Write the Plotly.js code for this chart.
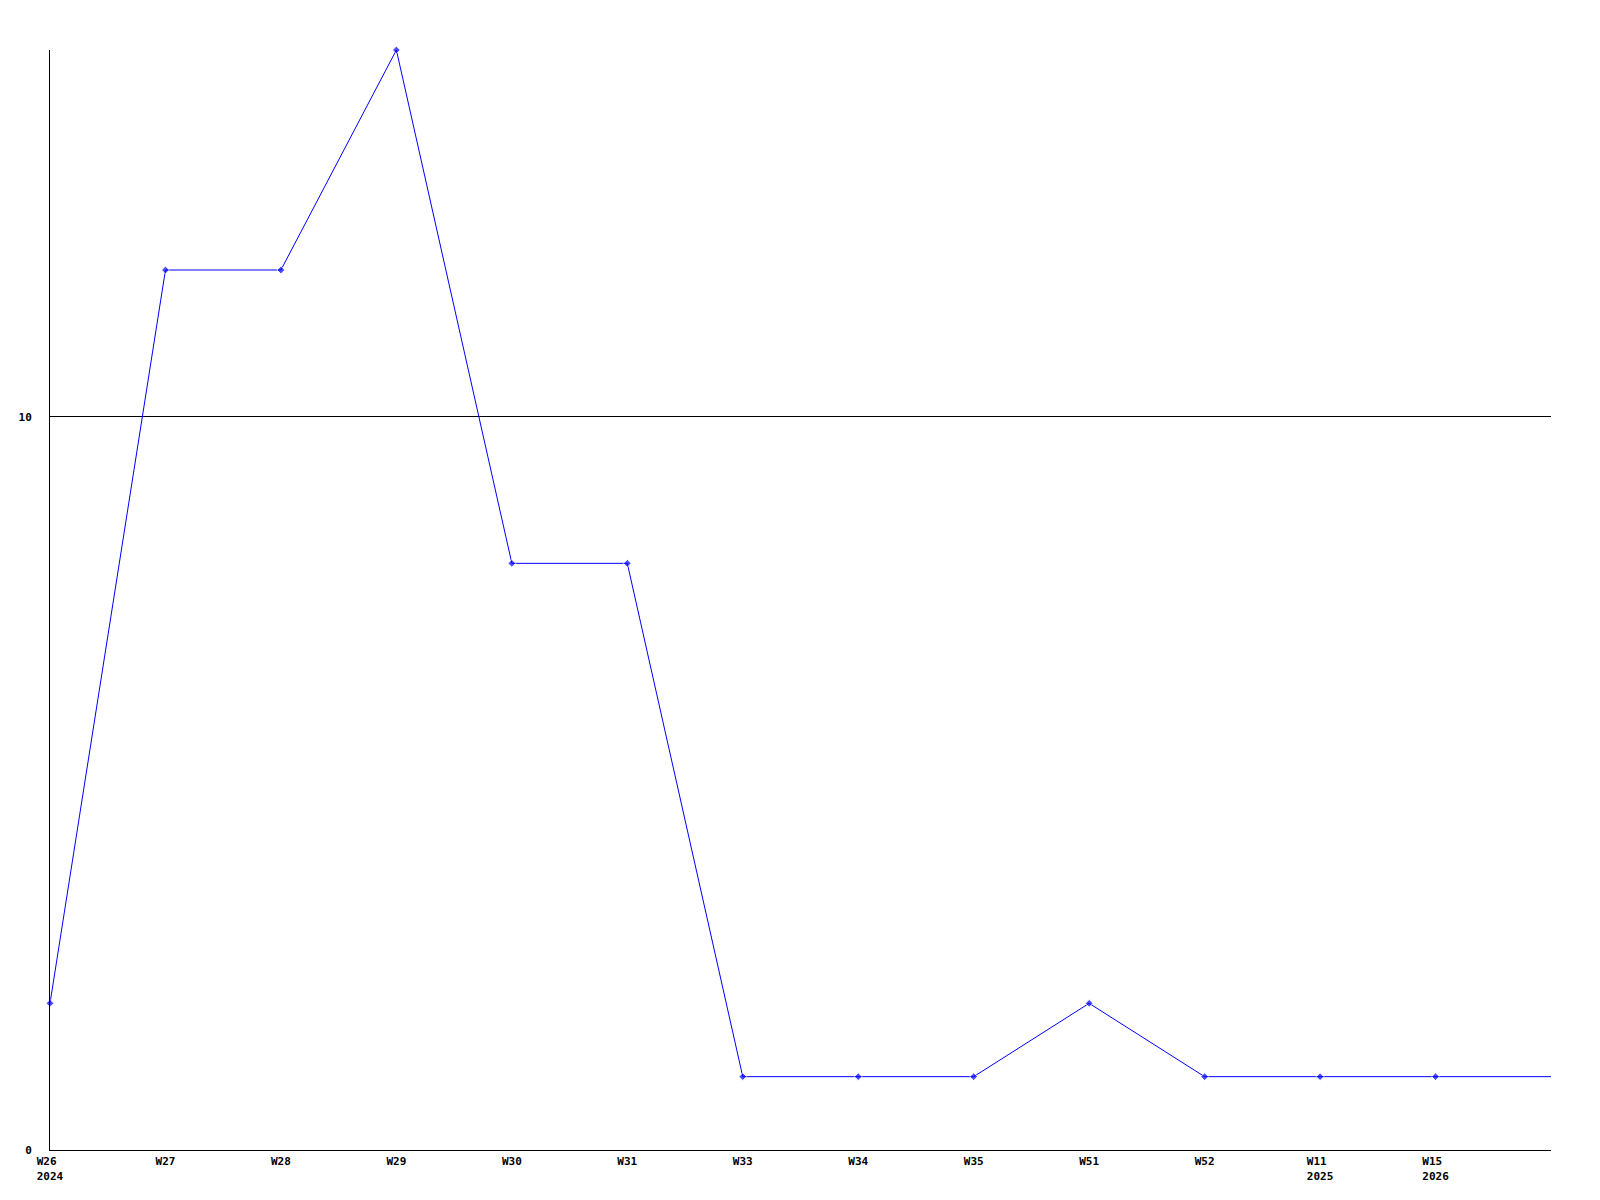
<!DOCTYPE html>
<html>
<head>
<meta charset="utf-8">
<script src="https://cdn.plot.ly/plotly-3.0.1.min.js"></script>
<style>html,body{margin:0;padding:0;background:#fff;}#chart{width:1600px;height:1200px;}</style>
</head>
<body>
<div id="chart"></div>
<script>
// Week categories (index positions) and tick labels
const weekLabels = ["W26\u00a0<br>2024", "W27", "W28", "W29", "W30", "W31", "W33", "W34", "W35", "W51", "W52", "W11\u00a0<br>2025", "W15\u00a0<br>2026", ""];
const values = [2, 12, 12, 15, 8, 8, 1, 1, 1, 2, 1, 1, 1, 1];
const markerSizes = values.map((v, i) => i === values.length - 1 ? 0 : 6);
const positions = values.map((v, i) => i);

const trace = {
  x: positions,
  y: values,
  type: 'scatter',
  mode: 'lines+markers',
  line: {color: '#0000ff', width: 1},
  marker: {symbol: 'diamond', size: markerSizes, color: '#0000ff'},
  cliponaxis: false,
  hoverinfo: 'none'
};

const tickFont = {family: '"DejaVu Sans Mono", "Liberation Mono", monospace', size: 11, color: '#000', weight: 'bold'};

const layout = {
  width: 1600,
  height: 1200,
  margin: {l: 50, r: 49, t: 50, b: 50},
  paper_bgcolor: '#fff',
  plot_bgcolor: '#fff',
  showlegend: false,
  xaxis: {
    range: [0, positions.length - 1],
    tickmode: 'array',
    tickvals: positions.slice(0, positions.length - 1),
    ticktext: weekLabels.slice(0, positions.length - 1),
    showgrid: false,
    zeroline: false,
    showline: true,
    linecolor: '#000',
    linewidth: 1,
    ticks: '',
    tickangle: 0,
    tickfont: tickFont,
    ticklabelstandoff: 1
  },
  yaxis: {
    range: [0, 15],
    tickmode: 'array',
    tickvals: [0, 10],
    ticktext: ['0', '10'],
    showgrid: true,
    gridcolor: '#000',
    gridwidth: 1,
    zeroline: false,
    showline: true,
    linecolor: '#000',
    linewidth: 1,
    ticks: '',
    tickfont: tickFont,
    ticklabelstandoff: 15
  }
};

Plotly.newPlot('chart', [trace], layout, {staticPlot: true, displayModeBar: false});
</script>
</body>
</html>
